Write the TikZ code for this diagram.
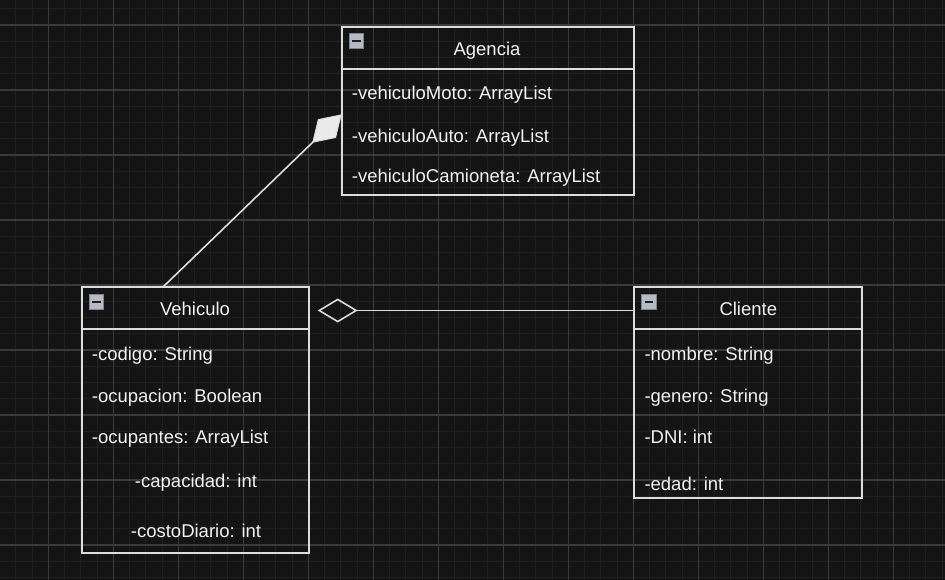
\documentclass[tikz,border=0pt]{standalone}
\usepackage{fontspec}
\setmainfont{Liberation Sans}
\usetikzlibrary{arrows.meta,calc}
\definecolor{bgc}{HTML}{141414}
\definecolor{minorc}{HTML}{202020}
\definecolor{majorc}{HTML}{3A3A3A}
\definecolor{edgec}{HTML}{DCDCDC}
\definecolor{txtc}{HTML}{F2F2F2}
\definecolor{diafill}{HTML}{EAEAEA}
\definecolor{iconfill}{HTML}{B6BAC2}
\definecolor{iconedge}{HTML}{7C8696}
\definecolor{icondark}{HTML}{202020}
\tikzset{
  classbox/.style={draw=edgec, line width=1.7pt, rectangle, inner sep=0pt, outer sep=0pt, anchor=north west},
  divider/.style={draw=edgec, line width=1.7pt},
  titletext/.style={font=\fontsize{18.5}{22}\selectfont, text=txtc, inner sep=0pt, anchor=base},
  attrtext/.style={font=\fontsize{18.5}{22}\selectfont, text=txtc, inner sep=0pt, anchor=base west},
  foldicon/.style={rectangle, fill=iconfill, draw=iconedge, line width=0.8pt, minimum size=14.5pt, inner sep=0pt,
    path picture={\draw[icondark, line width=1.8pt] ($(path picture bounding box.west)+(3.2,0)$) -- ($(path picture bounding box.east)+(-3.2,0)$);}},
  conn/.style={draw=edgec, line width=1.6pt},
  minorline/.style={draw=minorc, line width=0.9pt},
  majorline/.style={draw=majorc, line width=1.1pt}
}
\begin{document}
\begin{tikzpicture}[x=1pt,y=-1pt]
\useasboundingbox (0,0) rectangle (945,580);
\fill[bgc] (0,0) rectangle (945,580);
% grid
\foreach \i in {0,...,58} \draw[minorline] ({-0.45+16.25*\i},0) -- ++(0,580);
\foreach \j in {0,...,35} \draw[minorline] (0,{8.75+16.25*\j}) -- ++(945,0);
\foreach \k in {0,...,13} \draw[majorline] ({48.3+65*\k},0) -- ++(0,580);
\foreach \k in {0,...,8} \draw[majorline] (0,{25+65*\k}) -- ++(945,0);

% Agencia
\node[classbox, minimum width=292.6pt, minimum height=168.3pt] (ag) at (341.7,26.7) {};
\draw[divider] ($(ag.north west)+(0,42.3)$) -- ($(ag.north east)+(0,42.3)$);
\node[foldicon] (agicon) at (356.5,41) {};
\node[titletext] (agtitle) at (487,55.7) {Agencia};
\node[attrtext] (ag1) at (351.7,99.3) {-vehiculoMoto: ArrayList};
\node[attrtext] (ag2) at (351.7,142.3) {-vehiculoAuto: ArrayList};
\node[attrtext] (ag3) at (351.7,183) {-vehiculoCamioneta: ArrayList};

% Vehiculo
\node[classbox, minimum width=227pt, minimum height=266pt] (veh) at (82.3,286.7) {};
\draw[divider] ($(veh.north west)+(0,42.3)$) -- ($(veh.north east)+(0,42.3)$);
\node[foldicon] (vehicon) at (96.5,301.7) {};
\node[titletext] (vehtitle) at (195,315.7) {Vehiculo};
\node[attrtext] (veh1) at (91.7,360) {-codigo: String};
\node[attrtext] (veh2) at (91.7,402.7) {-ocupacion: Boolean};
\node[attrtext] (veh3) at (91.7,443.3) {-ocupantes: ArrayList};
\node[titletext] (veh4) at (196,487.3) {-capacidad: int};
\node[titletext] (veh5) at (196,537.3) {-costoDiario: int};

% Cliente
\node[classbox, minimum width=228pt, minimum height=211pt] (cli) at (634.3,286.7) {};
\draw[divider] ($(cli.north west)+(0,42.3)$) -- ($(cli.north east)+(0,42.3)$);
\node[foldicon] (cliicon) at (648.7,301.7) {};
\node[titletext] (clititle) at (748.3,315.7) {Cliente};
\node[attrtext] (cli1) at (644.3,360) {-nombre: String};
\node[attrtext] (cli2) at (644.3,402.7) {-genero: String};
\node[attrtext] (cli3) at (644.3,443.3) {-DNI: int};
\node[attrtext] (cli4) at (644.3,490) {-edad: int};

% composition Vehiculo -> Agencia
\draw[conn, -{Diamond[length=41pt, width=26pt, fill=diafill, line width=1pt]}]
  ($(veh.north west)+(81,0)$) -- ($(ag.north west)+(0,87.6)$);
% aggregation Cliente -> Vehiculo
\draw[conn, -{Diamond[open, length=40pt, width=24pt, line width=1.6pt]}]
  ($(cli.north west)+(0,23.8)$) -- ($(veh.north east)+(8.4,23.8)$);
\end{tikzpicture}
\end{document}
